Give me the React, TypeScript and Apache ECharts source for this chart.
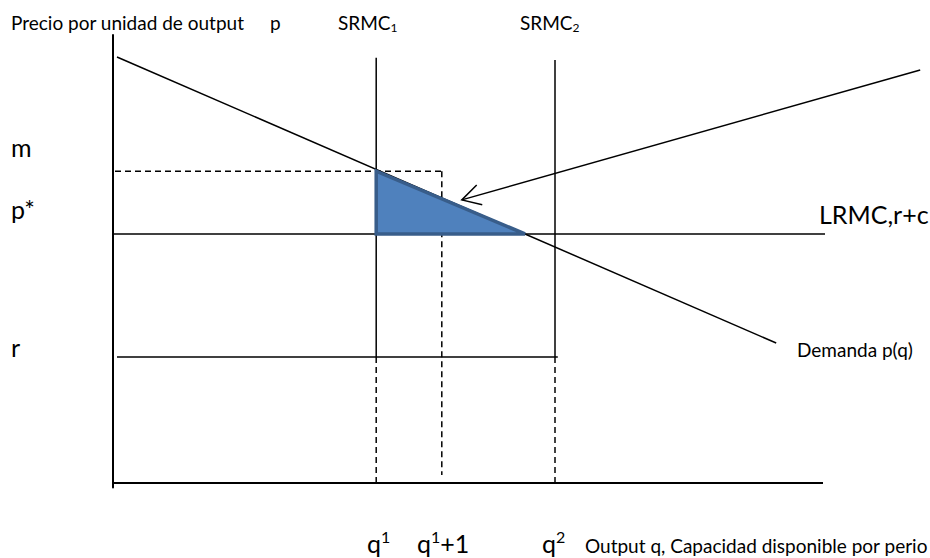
import React, { useEffect, useRef } from "react";
import * as echarts from "echarts";

const W = 930;
const H = 558;
const FONT = "Lato, 'Liberation Sans', sans-serif";

// ---- diagram data (q = output, p = price) ----
const demandQ = [0.5, 82.9];
const demandP = [95.1, 31.25];
const priceM = 69.6;
const priceStar = 55.6;
const priceR = 28.1;
const q1 = 32.9;
const q1Plus1 = 41.1;
const q2 = 55.25;
const triangleApexQ = 51.5;
const srmcTops = [94.9, 94.4];
const dashBottoms = [0.2, 1.8, -0.2];
const lrmcEndQ = 89;
const rLineQ = [0.5, 55.6];
const mLineQ = [0.25, 41.25];
const outputAxisEndQ = 88.75;
const arrowFrom = [100.9, 92.2];
const arrowTo = [43.6, 63.2];

const seg = (pts: number[][], dashed = false, width = 1.5) => ({
  type: "line",
  data: pts,
  symbol: "none",
  silent: true,
  z: 2,
  lineStyle: { color: "#000", width, type: dashed ? [6, 4] : "solid" },
});

export default function App() {
  const ref = useRef<HTMLDivElement>(null);
  useEffect(() => {
    if (!ref.current) return;
    const chart = echarts.init(ref.current, null, { renderer: "svg" });
    const small = 19;
    const big = 25;
    const mid = (baseline: number, fs: number) => baseline - 0.387 * fs;
    const txt = (x: number, baseline: number, text: string, fs: number, rich?: any) => ({
      type: "text",
      x,
      y: mid(baseline, fs),
      silent: true,
      style: {
        text,
        fontSize: fs,
        fontFamily: FONT,
        fill: "#000",
        verticalAlign: "middle",
        align: "left",
        rich,
      },
    });
    const subRich = { s: { fontSize: 12, fontFamily: FONT, fill: "#000", padding: [10, 0, 0, 0] } };
    const supRich = {
      s: { fontSize: 16, fontFamily: FONT, fill: "#000", padding: [0, 0, 13, 0] },
    };

    const option: any = {
      animation: false,
      backgroundColor: "#fff",
      grid: { left: 113, top: 35, width: 816, height: 101 * 4.48 },
      xAxis: {
        type: "value",
        min: 0,
        max: 102,
        show: false,
      },
      yAxis: {
        type: "value",
        min: -1,
        max: 100,
        axisLine: { show: true, onZero: false, lineStyle: { color: "#000", width: 2 } },
        axisTick: { show: false },
        axisLabel: { show: false },
        splitLine: { show: false },
      },
      series: [
        // output axis
        seg([[0, 0], [outputAxisEndQ, 0]], false, 2),
        // demand
        seg([[demandQ[0], demandP[0]], [demandQ[1], demandP[1]]]),
        // LRMC p*
        seg([[0, priceStar], [lrmcEndQ, priceStar]]),
        // r line
        seg([[rLineQ[0], priceR], [rLineQ[1], priceR]]),
        // m dashed
        seg([[mLineQ[0], priceM], [mLineQ[1], priceM]], true),
        // SRMC1
        seg([[q1, srmcTops[0]], [q1, priceR]]),
        seg([[q1, priceR], [q1, dashBottoms[0]]], true),
        // q1+1 dashed
        seg([[q1Plus1, priceM], [q1Plus1, dashBottoms[1]]], true),
        // SRMC2
        seg([[q2, srmcTops[1]], [q2, priceR]]),
        seg([[q2, priceR], [q2, dashBottoms[2]]], true),
        // triangle
        {
          type: "custom",
          coordinateSystem: "cartesian2d",
          silent: true,
          z: 5,
          data: [[q1, priceM, priceStar, triangleApexQ]],
          encode: { x: [0, 3], y: [1, 2] },
          renderItem: (params: any, api: any) => {
            const a = api.coord([api.value(0), api.value(1)]);
            const b = api.coord([api.value(0), api.value(2)]);
            const c = api.coord([api.value(3), api.value(2)]);
            return {
              type: "polygon",
              shape: { points: [a, b, c] },
              style: { fill: "#4F81BD", stroke: "#385D8A", lineWidth: 3.5, lineJoin: "miter" },
            };
          },
        },
        // arrow
        {
          type: "custom",
          coordinateSystem: "cartesian2d",
          silent: true,
          z: 6,
          data: [[arrowFrom[0], arrowFrom[1], arrowTo[0], arrowTo[1]]],
          encode: { x: [0, 2], y: [1, 3] },
          renderItem: (params: any, api: any) => {
            const s = api.coord([api.value(0), api.value(1)]);
            const t = api.coord([api.value(2), api.value(3)]);
            const ang = Math.atan2(s[1] - t[1], s[0] - t[0]);
            const L = 21;
            const da = (29 * Math.PI) / 180;
            const w1 = [t[0] + L * Math.cos(ang - da), t[1] + L * Math.sin(ang - da)];
            const w2 = [t[0] + L * Math.cos(ang + da), t[1] + L * Math.sin(ang + da)];
            return {
              type: "group",
              children: [
                {
                  type: "line",
                  shape: { x1: s[0], y1: s[1], x2: t[0], y2: t[1] },
                  style: { stroke: "#000", lineWidth: 1.5 },
                },
                {
                  type: "polyline",
                  shape: { points: [w1, t, w2] },
                  style: { stroke: "#000", lineWidth: 1.5, fill: null },
                },
              ],
            };
          },
        },
      ],
      graphic: [
        txt(11, 29.5, "Precio por unidad de output", small),
        txt(270, 29.5, "p", small),
        txt(338, 29.5, "SRMC{s|1}", small, subRich),
        txt(520, 29.5, "SRMC{s|2}", small, subRich),
        txt(11, 157, "m", big),
        txt(11, 219, "p*", big),
        txt(11, 357, "r", big),
        txt(819, 224, "LRMC,r+c", big),
        txt(797, 357, "Demanda p(q)", small),
        txt(367, 553, "q{s|1}", big, supRich),
        txt(417, 553, "q{s|1}+1", big, supRich),
        txt(542, 553, "q{s|2}", big, supRich),
        txt(585, 553, "Output q, Capacidad disponible por perio", 19),
      ],
    };
    chart.setOption(option);
    return () => chart.dispose();
  }, []);
  return (
    <div
      ref={ref}
      style={{ position: "absolute", left: 0, top: 0, width: W, height: H, background: "#fff" }}
    />
  );
}
